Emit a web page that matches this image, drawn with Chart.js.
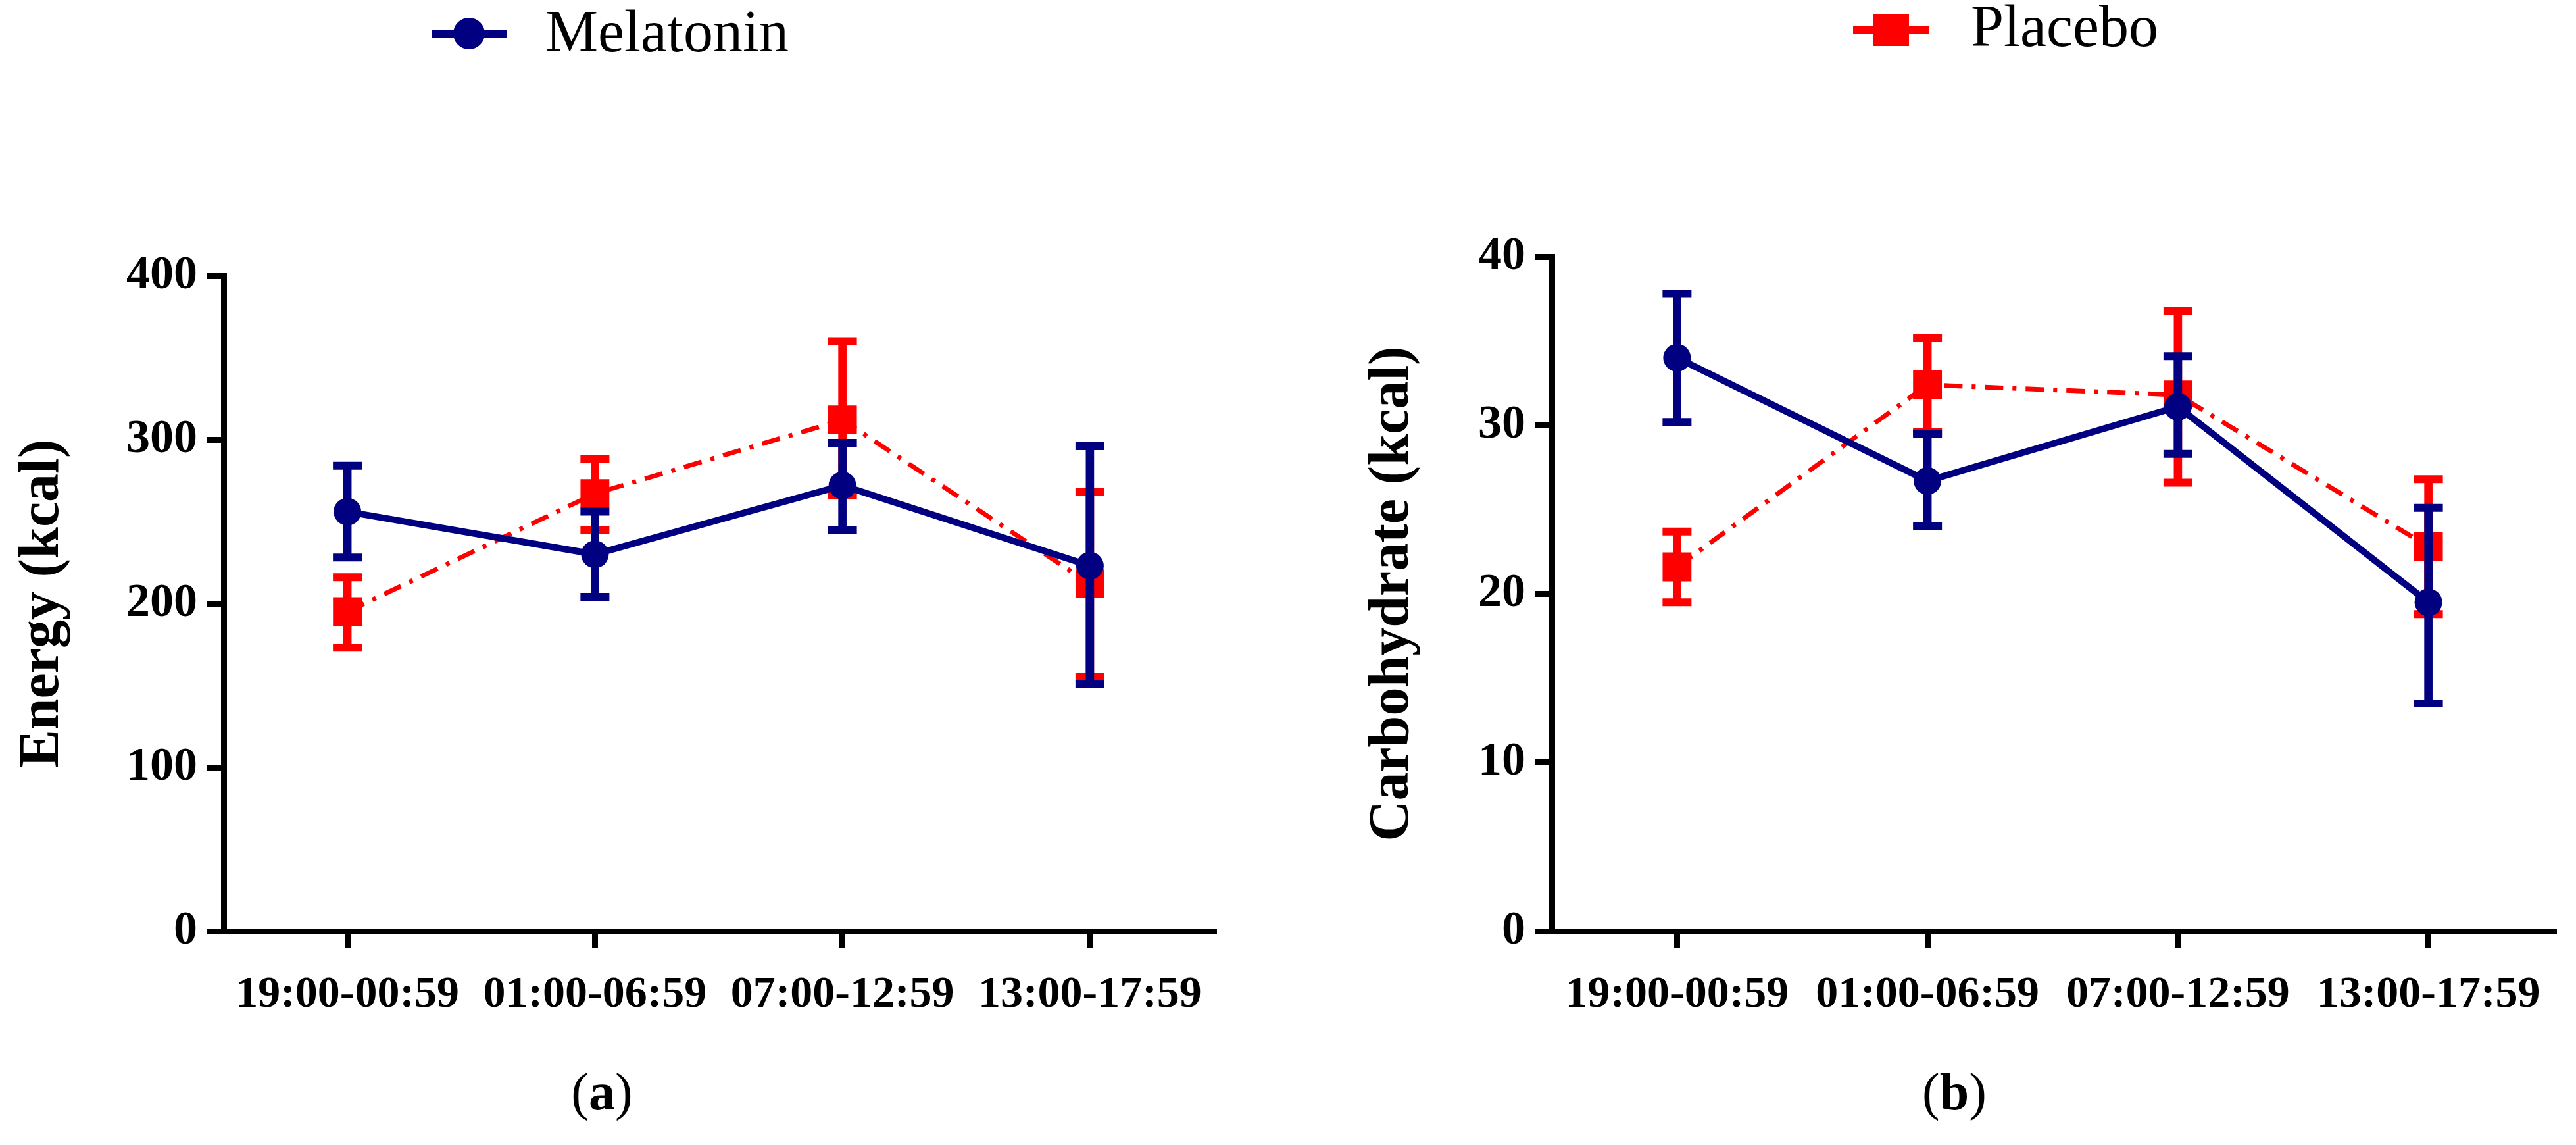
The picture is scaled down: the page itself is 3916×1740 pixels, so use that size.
<!DOCTYPE html>
<html lang="en">
<head>
  <meta charset="UTF-8" />
  <title>Melatonin vs Placebo - Energy and Carbohydrate intake</title>
  <script src="https://cdn.jsdelivr.net/npm/chart.js"></script>

  <style>
    body {
      margin: 0;
      background: #fff;
      font-family: "Liberation Serif", "Times New Roman", serif;
    }

    #figure {
      position: relative;
      width: 3916px;
      height: 1740px;
      overflow: hidden;
    }

    canvas {
      position: absolute;
      top: 0;
    }

    #chartEnergy {
      left: 0;
    }

    #chartCarb {
      left: 1960px;
    }

    .panel {
      position: absolute;
      top: 1612px;
      font-size: 80px;
      line-height: 94px;
      color: #000;
      transform: translateX(-50%);
    }
  </style>
</head>
<body>

  <div id="figure">
    <canvas id="chartEnergy" width="1960" height="1740"></canvas>
    <canvas id="chartCarb" width="1956" height="1740"></canvas>
    <div class="panel" style="left: 915px;">(<b>a</b>)</div>
    <div class="panel" style="left: 2971px;">(<b>b</b>)</div>
  </div>

  <script>
    // time windows on the x axis
    const timeLabels = ['19:00-00:59', '01:00-06:59', '07:00-12:59', '13:00-17:59'];

    // panel (a) energy, kcal : mean, lower and upper end of error bar
    const energyMel = [256, 230, 272, 223];
    const energyMelLow = [228, 204, 245, 151];
    const energyMelHigh = [284, 256, 298, 296];

    const energyPla = [195, 267, 312, 212];
    const energyPlaLow = [173, 245, 266, 155];
    const energyPlaHigh = [216, 288, 360, 268];

    // panel (b) carbohydrate, kcal
    const carbMel = [34.0, 26.7, 31.1, 19.5];
    const carbMelLow = [30.2, 24.0, 28.3, 13.5];
    const carbMelHigh = [37.8, 29.5, 34.1, 25.1];

    const carbPla = [21.6, 32.4, 31.8, 22.8];
    const carbPlaLow = [19.5, 29.6, 26.6, 18.8];
    const carbPlaHigh = [23.7, 35.2, 36.8, 26.8];

    const NAVY = '#000080';
    const RED = '#ff0000';
    const SERIF = '"Liberation Serif", "Times New Roman", serif';

    // one series = line with markers + error stem (floating bar) + two caps
    function serie(nombre, medias, bajos, altos, color, estilo, base) {
      const esMel = estilo === 'circle';
      const tapa = (valores) => ({
        type: 'line',
        label: nombre + ' cap',
        data: valores,
        showLine: false,
        pointStyle: 'line',
        pointRadius: 22,
        pointHoverRadius: 22,
        pointBorderWidth: 12,
        pointBorderColor: color,
        order: base + 1
      });
      return [
        {
          type: 'line',
          label: nombre,
          data: medias,
          borderColor: color,
          borderWidth: esMel ? 10 : 7,
          borderDash: esMel ? [] : [28, 14, 6, 14],
          tension: 0,
          fill: false,
          pointStyle: estilo,
          pointRadius: esMel ? 21 : 31,
          pointHoverRadius: esMel ? 21 : 31,
          pointBackgroundColor: color,
          pointBorderWidth: 0,
          order: base
        },
        tapa(bajos),
        tapa(altos),
        {
          type: 'bar',
          label: nombre + ' error',
          data: bajos.map((b, i) => [b, altos[i]]),
          backgroundColor: color,
          borderWidth: 0,
          barThickness: 12,
          grouped: false,
          order: base + 2
        }
      ];
    }

    // legend entry drawn on the canvas (line through marker + text)
    function leyenda(item) {
      return {
        id: 'leyenda',
        afterDraw(chart) {
          const ctx = chart.ctx;
          ctx.save();
          ctx.strokeStyle = item.color;
          ctx.fillStyle = item.color;
          ctx.lineWidth = 12;
          ctx.beginPath();
          ctx.moveTo(item.x0, item.y);
          ctx.lineTo(item.x1, item.y);
          ctx.stroke();
          const cx = (item.x0 + item.x1) / 2;
          ctx.beginPath();
          if (item.square) {
            ctx.rect(cx - 27, item.y - 24, 54, 48);
          } else {
            ctx.arc(cx, item.y - 1, 24, 0, Math.PI * 2);
          }
          ctx.fill();
          ctx.fillStyle = '#000';
          ctx.font = '90px ' + SERIF;
          ctx.textBaseline = 'alphabetic';
          ctx.textAlign = 'left';
          ctx.fillText(item.text, item.tx, item.ty);
          ctx.restore();
        }
      };
    }

    function crearGrafico(id, cfg) {
      const ctx = document.getElementById(id).getContext('2d');
      return new Chart(ctx, {
        type: 'bar',
        data: {
          labels: timeLabels,
          datasets: [
            ...serie('Melatonin', cfg.mel, cfg.melLow, cfg.melHigh, NAVY, 'circle', 0),
            ...serie('Placebo', cfg.pla, cfg.plaLow, cfg.plaHigh, RED, 'rect', 3)
          ]
        },
        options: {
          responsive: false,
          animation: false,
          devicePixelRatio: 1,
          events: [],
          layout: {
            padding: { left: cfg.padLeft, top: cfg.top, right: cfg.padRight, bottom: 0 }
          },
          plugins: {
            legend: { display: false },
            tooltip: { enabled: false }
          },
          scales: {
            x: {
              offset: true,
              afterFit: (scale) => { scale.height = 1740 - cfg.bottom; },
              border: { display: true, color: '#000', width: 9 },
              grid: {
                offset: false,
                drawOnChartArea: false,
                drawTicks: true,
                tickLength: 25,
                tickWidth: 9,
                tickColor: '#000',
                color: '#000',
                lineWidth: 9
              },
              ticks: {
                color: '#000',
                padding: 32,
                maxRotation: 0,
                autoSkip: false,
                font: { family: SERIF, size: 68, weight: 'bold' }
              }
            },
            y: {
              min: 0,
              max: cfg.max,
              afterFit: (scale) => { scale.width = cfg.axisX - cfg.padLeft; },
              border: { display: true, color: '#000', width: 9 },
              grid: {
                drawOnChartArea: false,
                drawTicks: true,
                tickLength: 25,
                tickWidth: 9,
                tickColor: '#000',
                color: '#000',
                lineWidth: 9
              },
              ticks: {
                stepSize: cfg.step,
                color: '#000',
                padding: 15,
                font: { family: SERIF, size: 72, weight: 'bold' }
              },
              title: {
                display: true,
                text: cfg.titulo,
                color: '#000',
                padding: { top: cfg.titlePad, bottom: 0 },
                font: { family: SERIF, size: 86, weight: 'bold' }
              }
            }
          }
        },
        plugins: [leyenda(cfg.leyenda)]
      });
    }

    crearGrafico('chartEnergy', {
      mel: energyMel, melLow: energyMelLow, melHigh: energyMelHigh,
      pla: energyPla, plaLow: energyPlaLow, plaHigh: energyPlaHigh,
      max: 400, step: 100,
      titulo: 'Energy (kcal)',
      padLeft: 0, titlePad: 14, axisX: 340,
      top: 419, bottom: 1415, padRight: 115,
      leyenda: { text: 'Melatonin', color: NAVY, square: false, x0: 656, x1: 770, y: 52, tx: 829, ty: 78 }
    });

    crearGrafico('chartCarb', {
      mel: carbMel, melLow: carbMelLow, melHigh: carbMelHigh,
      pla: carbPla, plaLow: carbPlaLow, plaHigh: carbPlaHigh,
      max: 40, step: 10,
      titulo: 'Carbohydrate (kcal)',
      padLeft: 100, titlePad: 6, axisX: 399,
      top: 390, bottom: 1415, padRight: 10,
      leyenda: { text: 'Placebo', color: RED, square: true, x0: 857, x1: 973, y: 46, tx: 1036, ty: 70 }
    });
  </script>

</body>
</html>
